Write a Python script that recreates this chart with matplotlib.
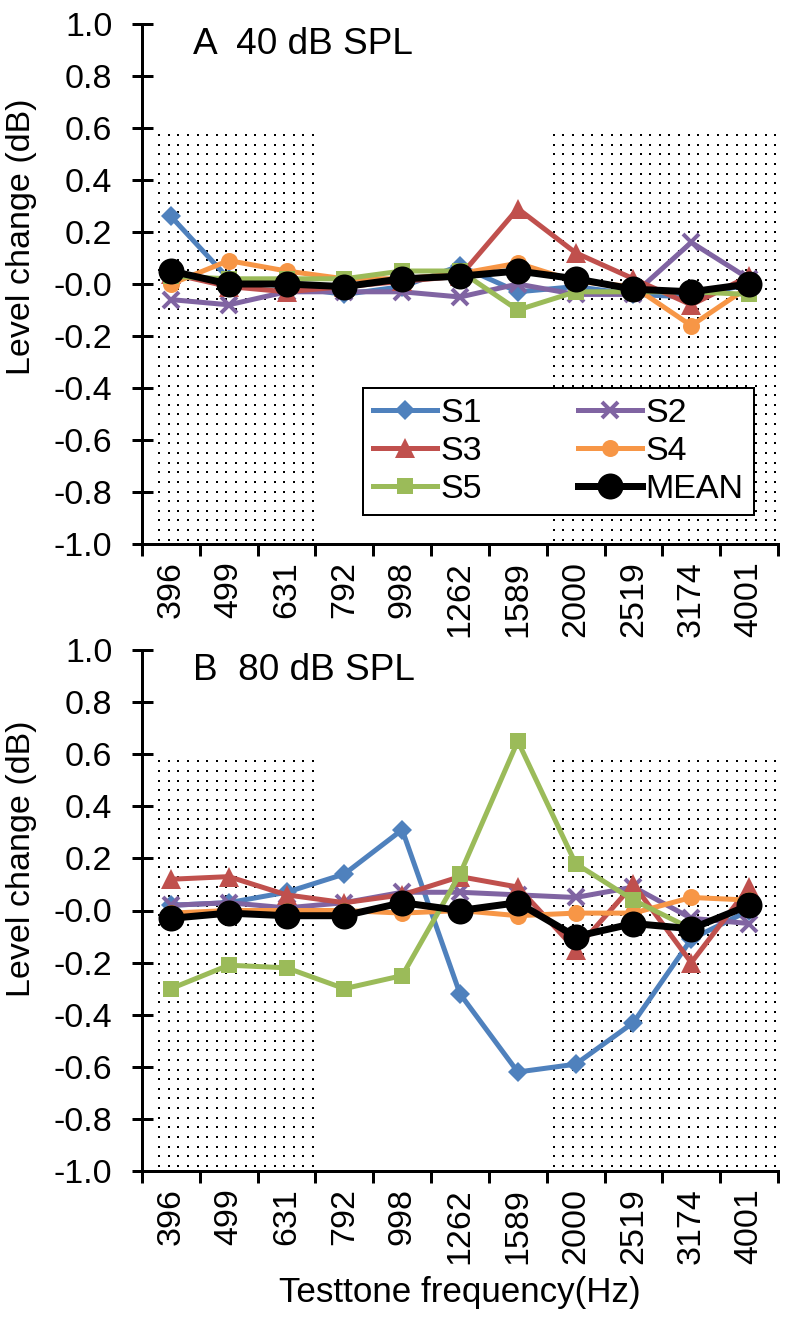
import numpy as np
import matplotlib
matplotlib.use("Agg")
import matplotlib.pyplot as plt
from matplotlib.ticker import FixedLocator, FuncFormatter, NullFormatter

# ---------------- data ----------------
freqs = ["396", "499", "631", "792", "998", "1262", "1589", "2000", "2519", "3174", "4001"]
series_names = ["S1", "S2", "S3", "S4", "S5", "MEAN"]

a_S1 = [0.26, 0.02, -0.01, -0.04, -0.01, 0.07, -0.03, -0.01, -0.04, -0.05, 0.00]
a_S2 = [-0.06, -0.08, -0.03, -0.03, -0.03, -0.05, 0.00, -0.04, -0.04, 0.16, 0.02]
a_S3 = [0.04, -0.01, -0.03, -0.01, 0.01, 0.03, 0.29, 0.12, 0.02, -0.08, 0.03]
a_S4 = [0.00, 0.09, 0.05, 0.02, 0.02, 0.04, 0.08, 0.01, -0.01, -0.16, -0.01]
a_S5 = [0.03, 0.02, 0.02, 0.02, 0.05, 0.05, -0.10, -0.03, -0.03, -0.03, -0.04]
a_MEAN = [0.05, 0.00, 0.00, -0.01, 0.02, 0.03, 0.05, 0.02, -0.02, -0.03, 0.00]

b_S1 = [0.02, 0.03, 0.07, 0.14, 0.31, -0.32, -0.62, -0.59, -0.43, -0.11, 0.00]
b_S2 = [0.02, 0.03, 0.01, 0.03, 0.07, 0.07, 0.06, 0.05, 0.09, -0.03, -0.05]
b_S3 = [0.12, 0.13, 0.06, 0.03, 0.06, 0.13, 0.09, -0.15, 0.10, -0.20, 0.09]
b_S4 = [-0.01, 0.00, 0.00, 0.00, -0.01, 0.00, -0.02, -0.01, -0.01, 0.05, 0.04]
b_S5 = [-0.30, -0.21, -0.22, -0.30, -0.25, 0.14, 0.65, 0.18, 0.04, -0.07, 0.02]
b_MEAN = [-0.03, -0.01, -0.02, -0.02, 0.03, 0.00, 0.03, -0.10, -0.05, -0.07, 0.02]

panel_titles = ["A  40 dB SPL", "B  80 dB SPL"]
# shaded (dotted) frequency ranges: category index spans and top level (dB)
shade_spans = [(0, 2), (7, 10)]
shade_top = 0.58
y_min, y_max, y_step = -1.0, 1.0, 0.2

# ---------------- style ----------------
DPI = 116
plt.rcParams['font.family'] = ['Liberation Sans', 'DejaVu Sans']
plt.rcParams['axes.unicode_minus'] = False

def px(v):
    return v * 72.0 / DPI

colors = {"S1": "#4F81BD", "S2": "#8064A2", "S3": "#C0504D",
          "S4": "#F79646", "S5": "#9BBB59", "MEAN": "#000000"}
markers = {"S1": "D", "S2": "x", "S3": "^", "S4": "o", "S5": "s", "MEAN": "o"}
msizes = {"S1": px(14), "S2": px(16), "S3": px(20), "S4": px(17), "S5": px(16), "MEAN": px(26)}
lwidths = {"S1": px(5), "S2": px(5), "S3": px(5), "S4": px(5), "S5": px(5), "MEAN": px(7)}

W, H = 789.0, 1318.0
fig = plt.figure(figsize=(W / DPI, H / DPI), dpi=DPI)
ax_left, ax_right = 142, 778
panel_rows = [(24, 544), (650, 1171)]
ylabel_y = [0.59, 0.60]

FS = px(34)
FS_TITLE = px(37)
FS_XLABEL = px(35)

panels = [
    dict(S1=a_S1, S2=a_S2, S3=a_S3, S4=a_S4, S5=a_S5, MEAN=a_MEAN),
    dict(S1=b_S1, S2=b_S2, S3=b_S3, S4=b_S4, S5=b_S5, MEAN=b_MEAN),
]

x = np.arange(len(freqs))
n = len(freqs)
for pi, (top, bot) in enumerate(panel_rows):
    ax = fig.add_axes([ax_left / W, 1 - bot / H, (ax_right - ax_left) / W, (bot - top) / H])
    ax.set_xlim(-0.5, n - 0.5)
    ax.set_ylim(y_min, y_max)

    # dotted shading: regular grid of small dots (pattern fill)
    ux = n / (ax_right - ax_left)          # data units per pixel, x
    uy = (y_max - y_min) / (bot - top)     # data units per pixel, y
    step = 9.63
    gx = -0.5 + 17 * ux + np.arange(0, 80) * step * ux
    gy = shade_top - 2 * uy - np.arange(0, 80) * step * uy
    gy = gy[gy > y_min + 2 * uy]
    for s0, s1 in shade_spans:
        cols = gx[(gx > s0 - 0.5) & (gx < s1 + 0.5)]
        XX, YY = np.meshgrid(cols, gy)
        ax.scatter(XX.ravel(), YY.ravel(), s=px(2.5) ** 2, marker='s', c='black',
                   linewidths=0, zorder=0.5)

    data = panels[pi]
    handles = {}
    for name in series_names:
        mk = markers[name]
        kw = dict(color=colors[name], lw=lwidths[name], marker=mk, ms=msizes[name],
                  label=name, zorder=5 if name == "MEAN" else 3)
        kw['mew'] = px(4) if mk == 'x' else 0
        h, = ax.plot(x, data[name], **kw)
        handles[name] = h

    for sp in ['top', 'right']:
        ax.spines[sp].set_visible(False)
    for sp in ['left', 'bottom']:
        ax.spines[sp].set_linewidth(px(3))
        ax.spines[sp].set_zorder(6)

    yt = np.round(np.arange(y_min, y_max + 1e-9, y_step), 1)
    ax.set_yticks(yt)
    ax.yaxis.set_major_formatter(FuncFormatter(lambda v, p: f"{v:.1f}"))
    ax.tick_params(axis='y', direction='inout', length=px(21), width=px(3),
                   pad=px(19), labelsize=FS)

    ax.xaxis.set_major_locator(FixedLocator(np.arange(-0.5, n, 1.0)))
    ax.xaxis.set_major_formatter(NullFormatter())
    ax.set_xticks(x, freqs, minor=True)
    ax.tick_params(axis='x', which='major', direction='out', length=px(12), width=px(3))
    ax.tick_params(axis='x', which='minor', length=0, pad=px(17), labelsize=FS,
                   labelrotation=90)

    ax.set_ylabel("Level change (dB)", fontsize=FS)
    ax.yaxis.set_label_coords(-0.165, ylabel_y[pi])

    ax.text(0.08, 0.96, panel_titles[pi], transform=ax.transAxes, fontsize=FS_TITLE,
            va='center', ha='left')

    if pi == 0:
        order = ["S1", "S3", "S5", "S2", "S4", "MEAN"]
        leg = ax.legend([handles[k] for k in order], order, ncol=2,
                        loc='upper left', bbox_to_anchor=(0.347, 0.30),
                        fontsize=FS, frameon=True, fancybox=False, framealpha=1,
                        handlelength=1.9, handletextpad=0.1, labelspacing=0.2,
                        borderpad=0.3, columnspacing=2.8, borderaxespad=0)
        leg.get_frame().set_edgecolor('black')
        leg.get_frame().set_facecolor('white')
        leg.get_frame().set_linewidth(px(2))
        leg.set_zorder(10)
    else:
        ax.set_xlabel("Testtone frequency(Hz)", fontsize=FS_XLABEL, labelpad=px(12))

fig.savefig("out.png", dpi=DPI)
